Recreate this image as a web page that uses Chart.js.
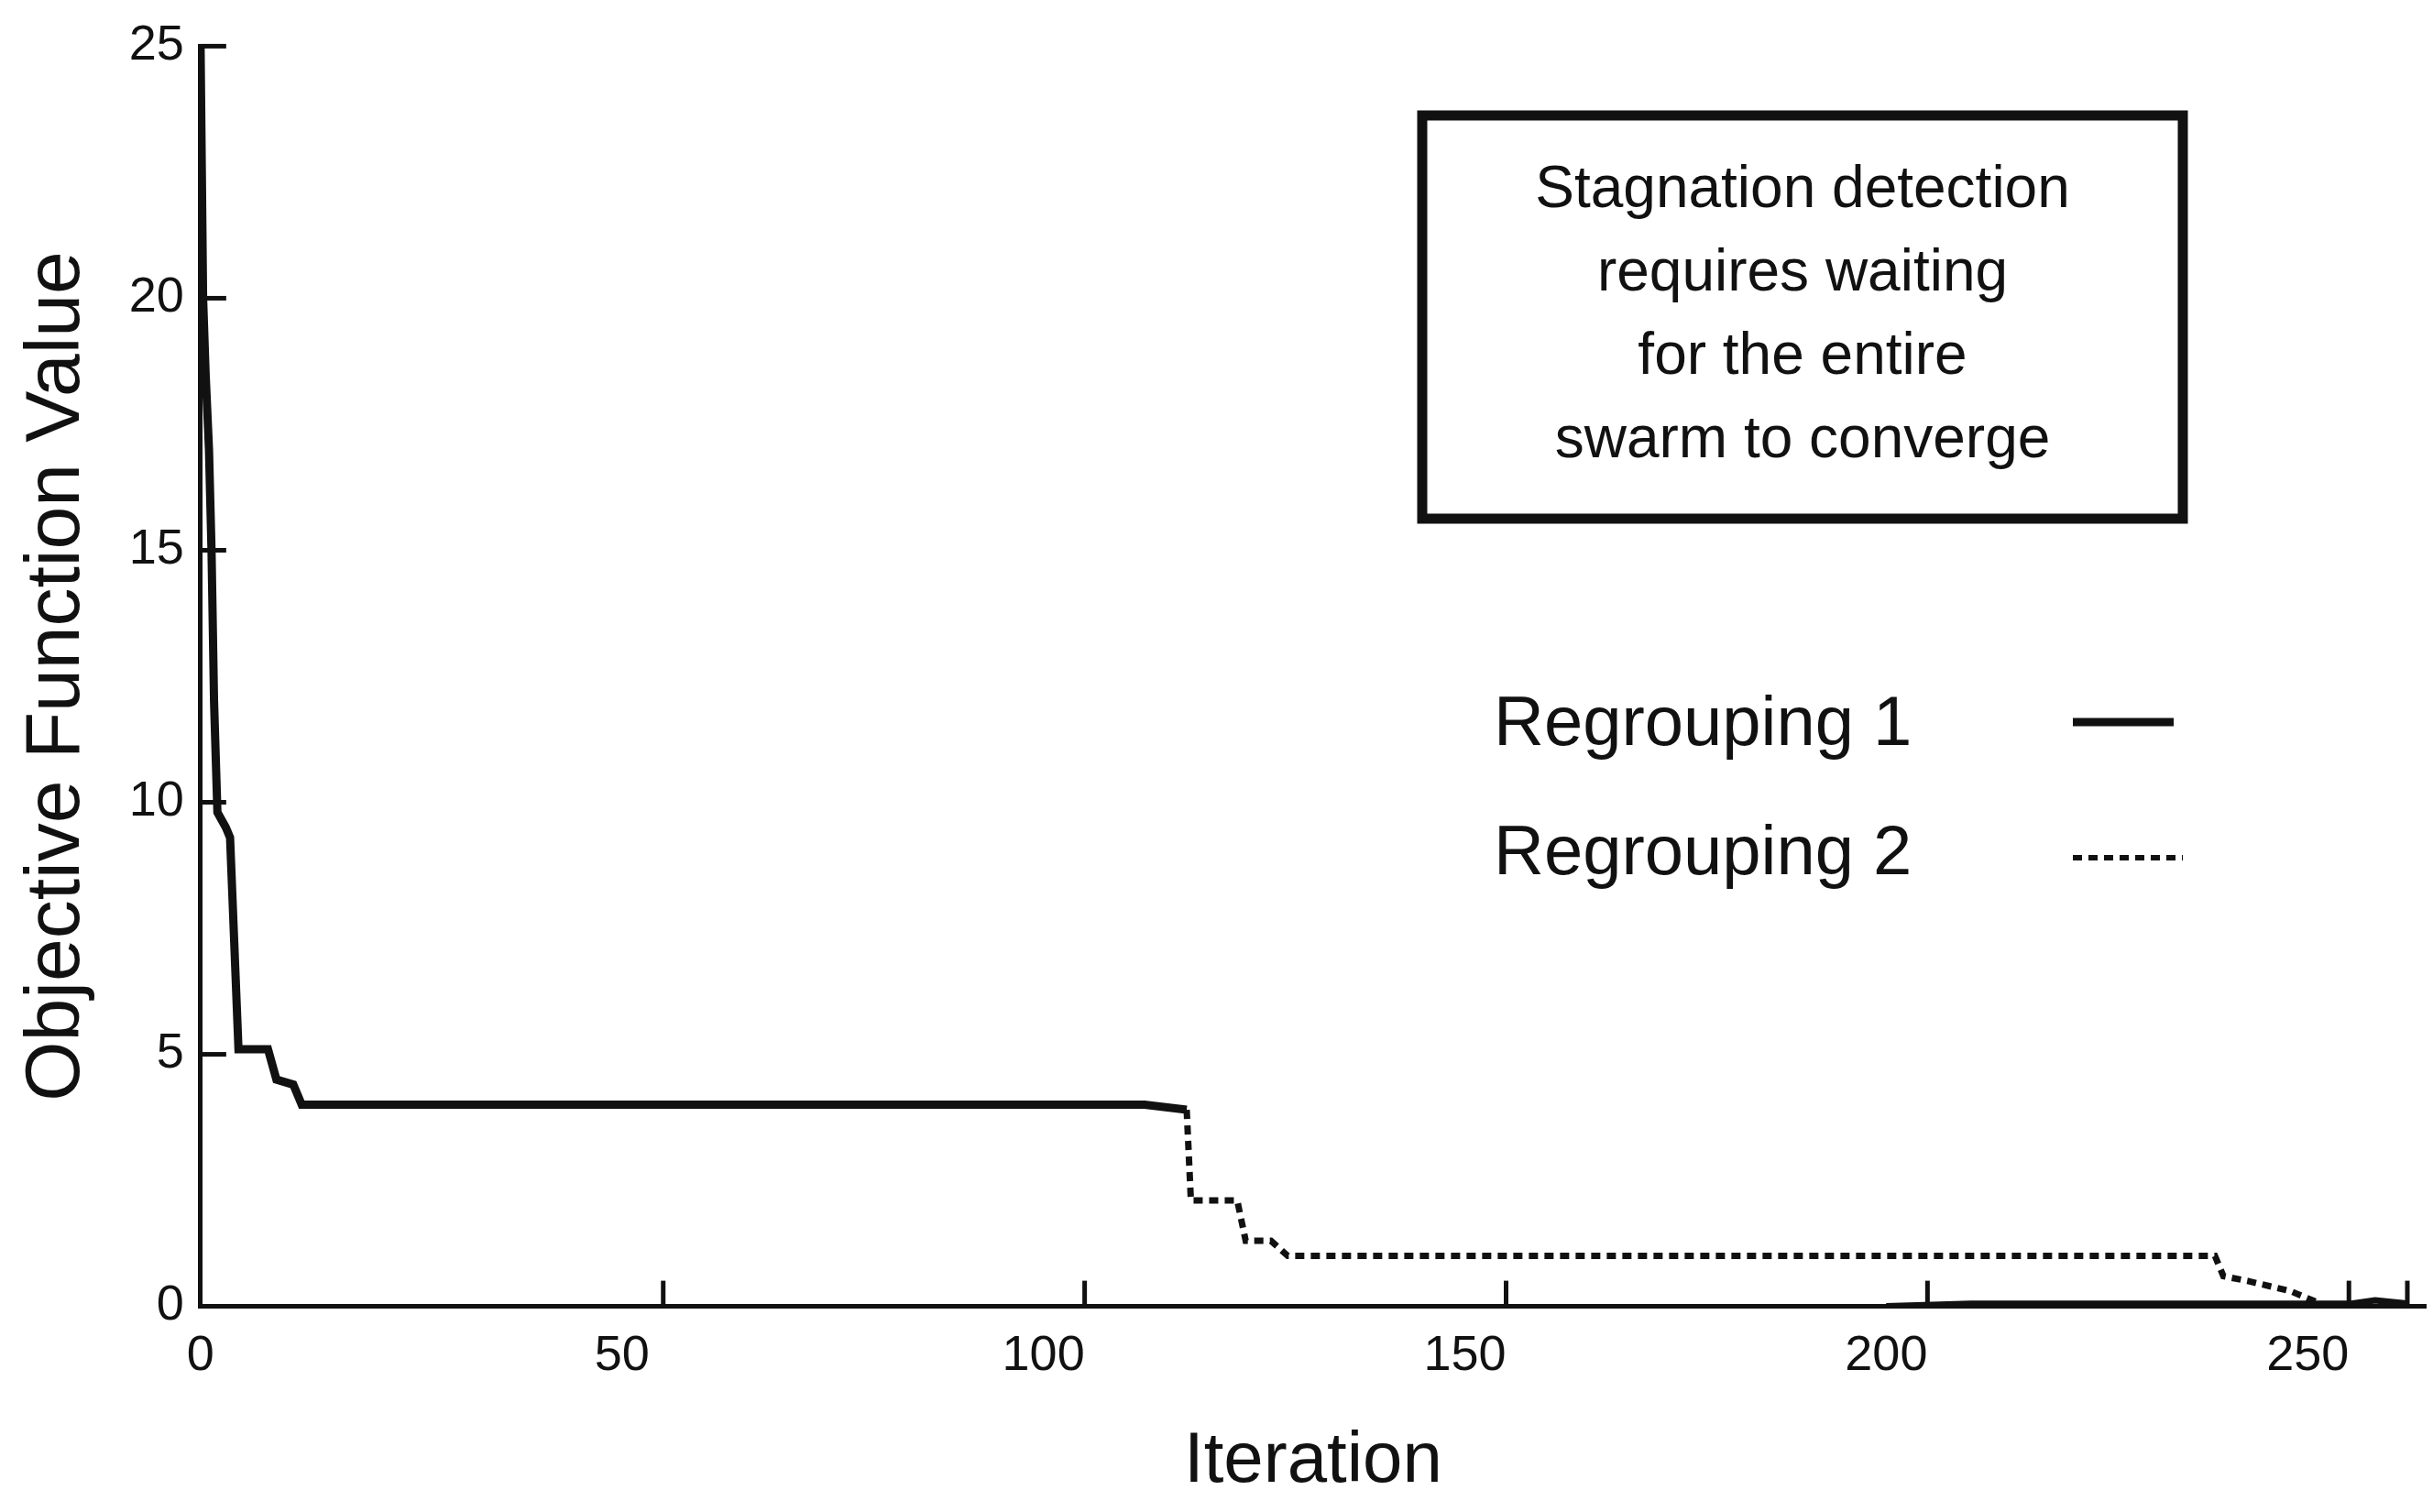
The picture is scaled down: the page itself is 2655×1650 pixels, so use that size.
<!DOCTYPE html>
<html>
<head>
<meta charset="utf-8">
<script src="https://cdn.jsdelivr.net/npm/chart.js@4/dist/chart.umd.min.js"></script>
<style>
  html, body { margin: 0; padding: 0; background: #fff; }
  #wrap { width: 2655px; height: 1650px; }
</style>
</head>
<body>
<div id="wrap"><canvas id="myChart"></canvas></div>
<script>
// values
const reg1X = [0, 0.3, 0.6, 1, 1.3, 1.6, 2, 3, 3.5, 4.5, 8, 9, 11, 12, 30, 60, 90, 112, 117];
const reg1Y = [25, 20, 18.5, 17, 15, 12, 9.8, 9.5, 9.3, 5.1, 5.1, 4.5, 4.4, 4.0, 4.0, 4.0, 4.0, 4.0, 3.9];
const reg2X = [117, 117.5, 123, 124, 127, 129, 150, 180, 210, 239, 240, 243, 248, 252, 256];
const reg2Y = [3.9, 2.1, 2.1, 1.3, 1.3, 1.0, 1.0, 1.0, 1.0, 1.0, 0.6, 0.5, 0.3, 0.02, 0.02];
const tailX = [200, 210, 240, 255, 258, 262];
const tailY = [0.0, 0.05, 0.05, 0.05, 0.12, 0.05];
const xTicks = [0, 50, 100, 150, 200, 250];
const yTicks = [0, 5, 10, 15, 20, 25];
const legendNames = ['Regrouping 1', 'Regrouping 2'];
const noteLines = ['Stagnation detection', 'requires waiting', 'for the entire', 'swarm to converge'];

const pts = (xs, ys) => xs.map((x, i) => ({ x: x, y: ys[i] }));
const FONT = 'Arial, "Liberation Sans", sans-serif';

document.addEventListener("DOMContentLoaded", function () {
    const ctx = document.getElementById('myChart').getContext('2d');

    // inward tick marks, note box and legend drawn on top
    const extras = {
        id: 'extras',
        afterDraw(chart) {
            const c = chart.ctx, xs = chart.scales.x, ys = chart.scales.y;
            c.save();
            c.strokeStyle = '#111';
            c.lineWidth = 5;
            xTicks.slice(1).forEach(v => {
                const px = xs.getPixelForValue(v) + 45;
                c.beginPath(); c.moveTo(px, ys.bottom); c.lineTo(px, ys.bottom - 28); c.stroke();
            });
            c.beginPath(); c.moveTo(xs.right - 20, ys.bottom); c.lineTo(xs.right - 20, ys.bottom - 28); c.stroke();
            yTicks.slice(1).forEach(v => {
                const py = ys.getPixelForValue(v);
                c.beginPath(); c.moveTo(xs.left, py); c.lineTo(xs.left + 28, py); c.stroke();
            });
            // note box
            c.lineWidth = 11;
            c.strokeRect(1552, 126, 830, 440);
            c.fillStyle = '#111';
            c.font = '64px ' + FONT;
            c.textAlign = 'center';
            c.textBaseline = 'middle';
            noteLines.forEach((t, i) => c.fillText(t, 1967, 208 + i * 91));
            // legend
            c.font = '76px ' + FONT;
            c.textAlign = 'left';
            c.fillText(legendNames[0], 1630, 792);
            c.fillText(legendNames[1], 1630, 933);
            c.lineWidth = 9;
            c.beginPath(); c.moveTo(2262, 788); c.lineTo(2372, 788); c.stroke();
            c.lineWidth = 6;
            c.setLineDash([10, 7]);
            c.beginPath(); c.moveTo(2262, 936); c.lineTo(2382, 936); c.stroke();
            c.restore();
        }
    };

    new Chart(ctx, {
        type: 'line',
        data: {
            datasets: [
                { label: legendNames[0], data: pts(reg1X, reg1Y), borderColor: '#111', borderWidth: 9, pointRadius: 0, tension: 0 },
                { label: legendNames[1], data: pts(reg2X, reg2Y), borderColor: '#111', borderWidth: 7, borderDash: [10, 7], pointRadius: 0, tension: 0 },
                { label: 'tail', data: pts(tailX, tailY), borderColor: '#111', borderWidth: 7, pointRadius: 0, tension: 0 }
            ]
        },
        options: {
            responsive: true,
            maintainAspectRatio: false,
            animation: false,
            layout: { padding: { top: 50, right: 8, left: 8, bottom: 4 } },
            plugins: { legend: { display: false }, tooltip: { enabled: false } },
            scales: {
                x: {
                    type: 'linear', min: 0, max: 264,
                    afterBuildTicks: s => { s.ticks = xTicks.map(v => ({ value: v })); },
                    grid: { display: false, drawTicks: false },
                    border: { display: true, color: '#111', width: 5 },
                    ticks: { color: '#111', padding: 22, font: { size: 54, family: FONT } },
                    title: { display: true, text: 'Iteration', color: '#111', padding: { top: 14 }, font: { size: 78, family: FONT } }
                },
                y: {
                    min: 0, max: 25,
                    afterBuildTicks: s => { s.ticks = yTicks.map(v => ({ value: v })); },
                    grid: { display: false, drawTicks: false },
                    border: { display: true, color: '#111', width: 5 },
                    ticks: { color: '#111', padding: 18, font: { size: 54, family: FONT } },
                    title: { display: true, text: 'Objective Function Value', color: '#111', padding: { bottom: 10 }, font: { size: 84, family: FONT } }
                }
            }
        },
        plugins: [extras]
    });
});
</script>
</body>
</html>
